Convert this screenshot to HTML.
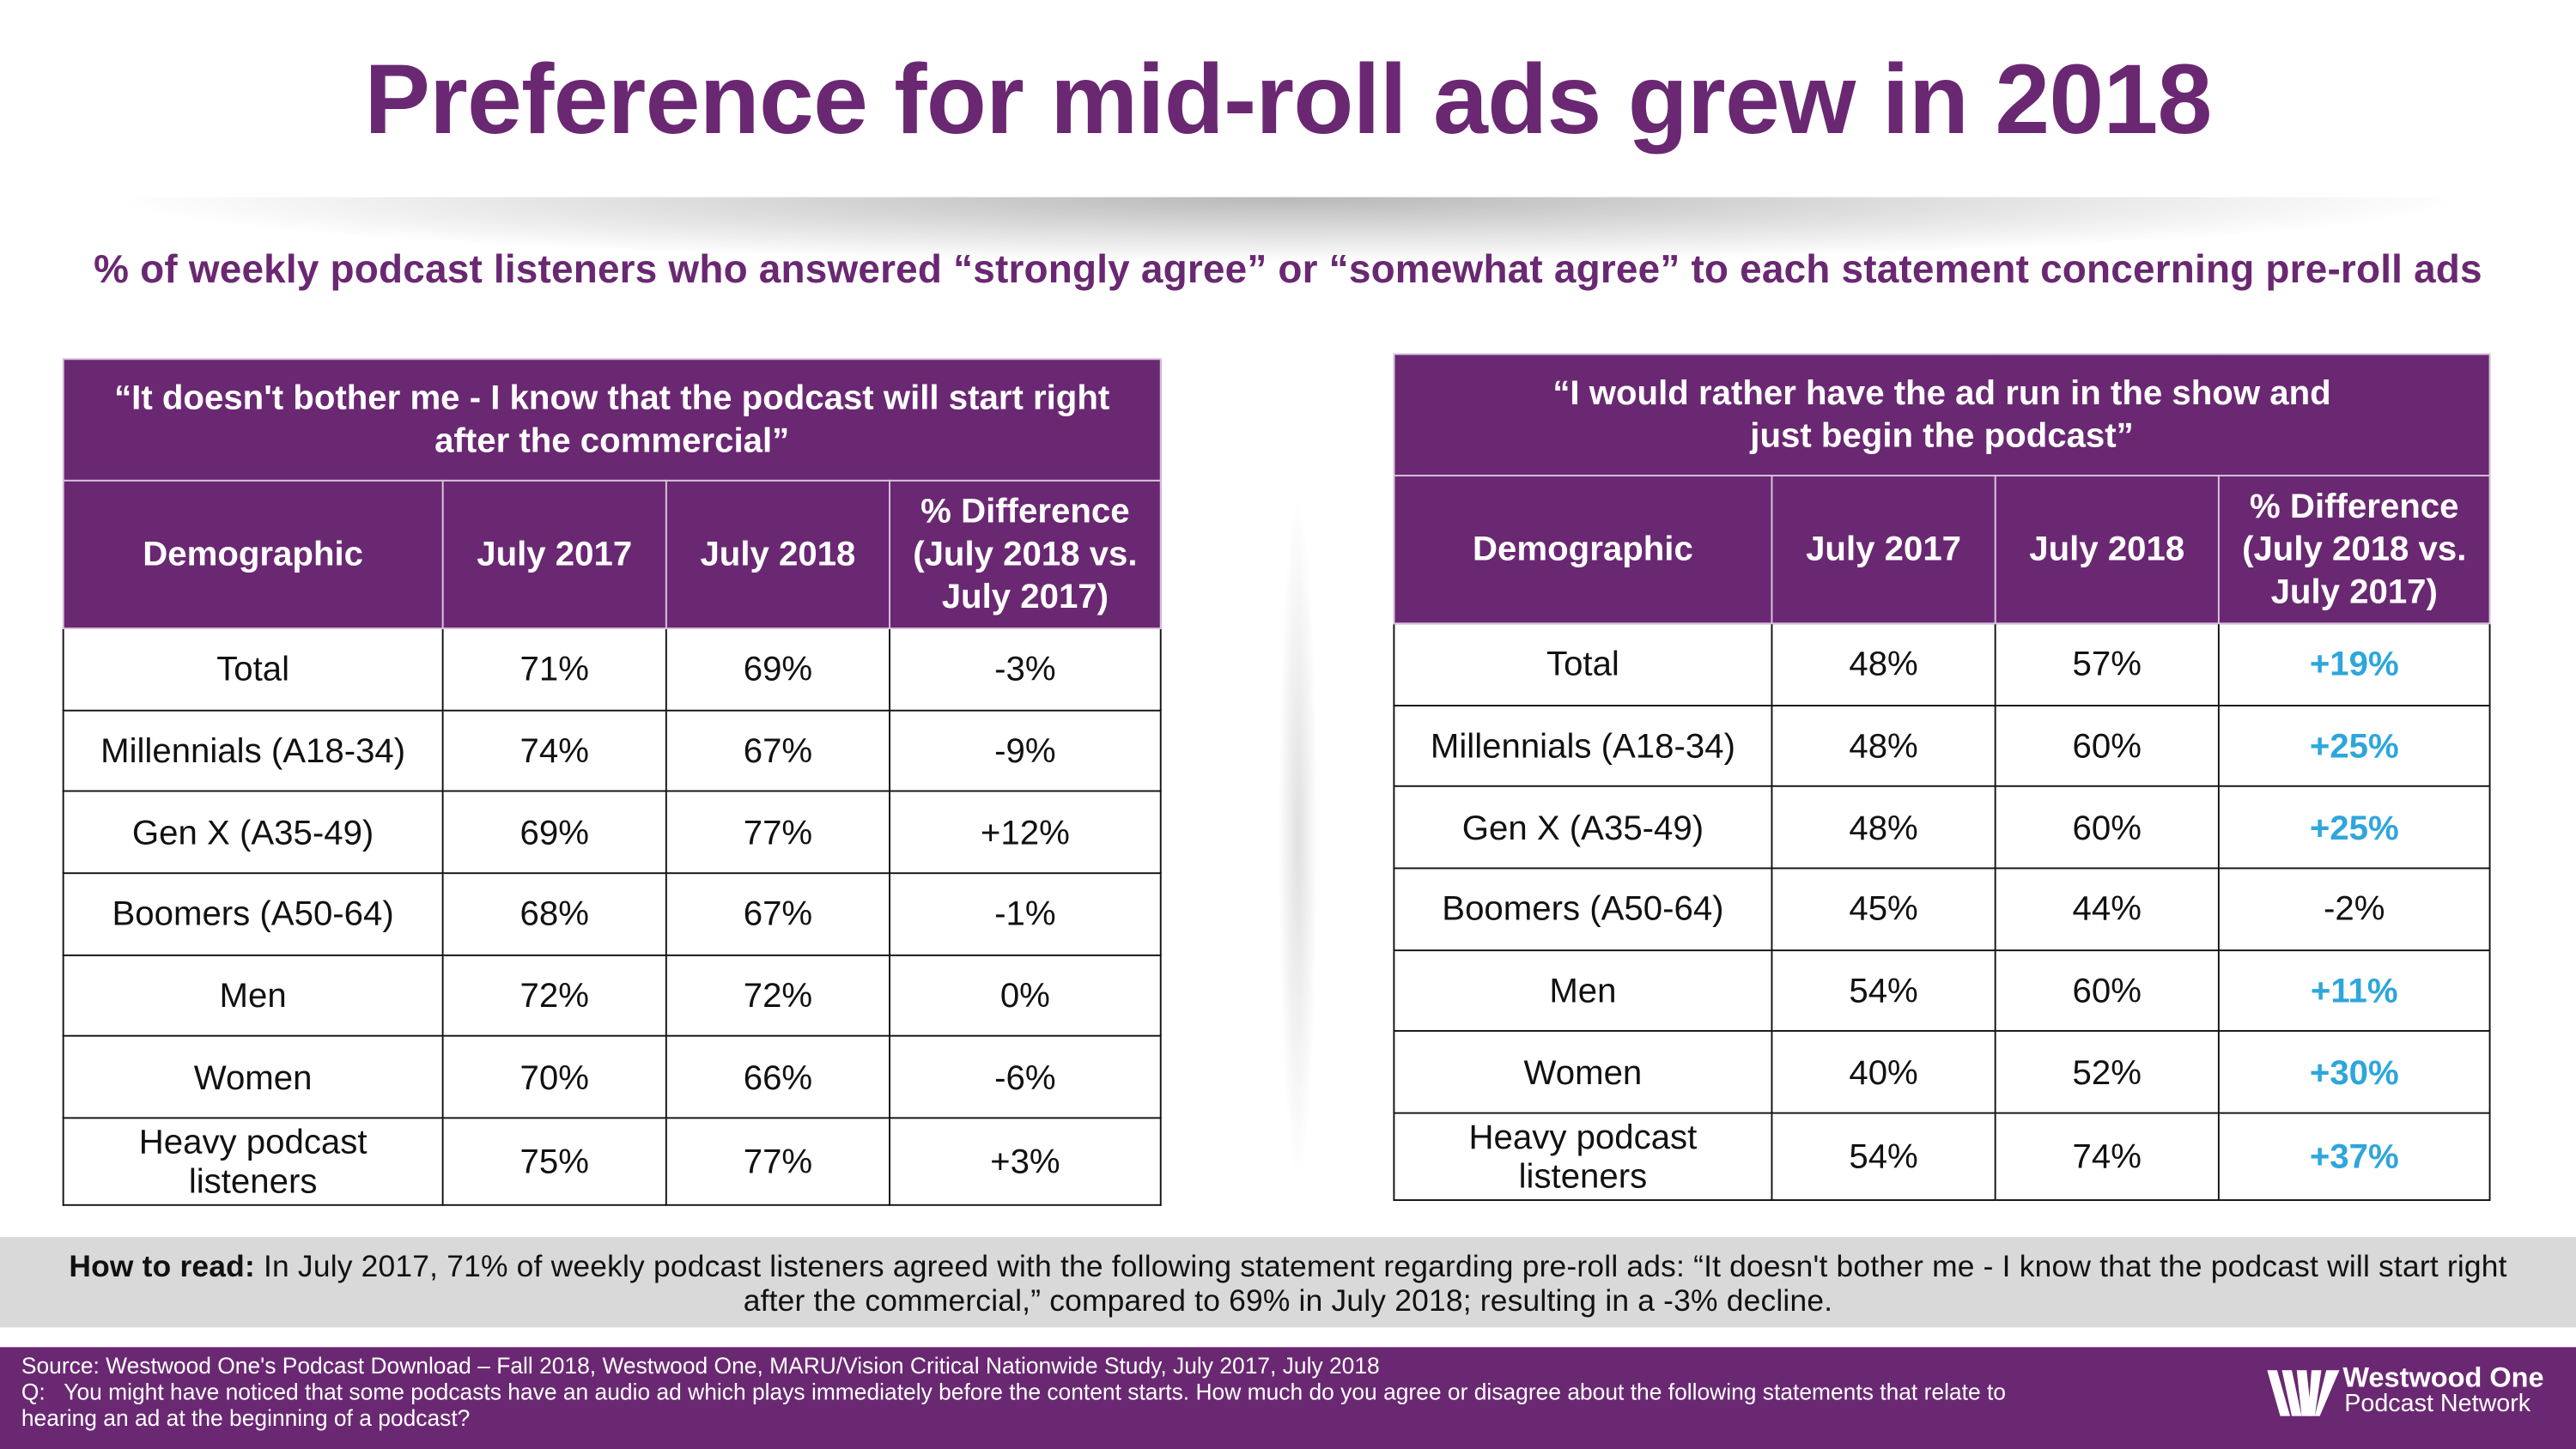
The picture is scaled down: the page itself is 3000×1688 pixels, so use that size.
<!DOCTYPE html>
<html><head><meta charset="utf-8">
<style>
html,body{margin:0;padding:0;background:#fff;}
body{width:3000px;height:1688px;overflow:hidden;position:relative;font-family:"Liberation Sans",sans-serif;}
#s{position:absolute;left:0;top:0;width:1568px;height:882px;transform:scale(1.91327,1.91383);transform-origin:0 0;}
.abs{position:absolute;}
#title{left:0;width:1568px;top:26px;text-align:center;font-size:60px;font-weight:bold;color:#6a2872;letter-spacing:-0.4px;}
#shadow{left:60px;width:1450px;top:120px;height:40px;background:radial-gradient(ellipse at 50% 0%,rgba(0,0,0,0.28),rgba(0,0,0,0) 70%);}
#sub{left:0;width:1568px;top:151px;text-align:center;font-size:24px;font-weight:bold;color:#6a2872;letter-spacing:0.1px;}
table{position:absolute;border-collapse:collapse;table-layout:fixed;}
td{padding:0;text-align:center;vertical-align:middle;font-size:21px;color:#111;border:1.5px solid #111;}
th{padding:0;background:#6a2872;color:#fff;font-size:21px;font-weight:bold;border:1px solid #d8c4dc;line-height:26px;}
th.q{height:73px;}
th.h{height:89px;}
td{height:46.7px;line-height:24px;padding-top:2px;}
.b{color:#2ea6dc;font-weight:bold;}
#vsh{left:778px;top:300px;width:24px;height:420px;background:radial-gradient(ellipse at 50% 50%,rgba(0,0,0,0.12),rgba(0,0,0,0) 70%);}
#how{left:0;top:753px;width:1568px;height:55px;background:#d9d9d9;}
#howt{left:10px;top:760px;width:1548px;text-align:center;font-size:18.5px;line-height:21px;color:#111;letter-spacing:0.1px;}
#foot{left:0;top:820px;width:1568px;height:62px;background:#6a2872;}
#ft{left:13px;top:824px;width:1300px;font-size:13.8px;line-height:16px;color:#fff;}
#logo{left:1380px;top:830px;width:180px;height:36px;color:#fff;}
</style></head><body>
<div id="s">
<div class="abs" id="title">Preference for mid-roll ads grew in 2018</div>
<div class="abs" id="shadow"></div>
<div class="abs" id="sub">% of weekly podcast listeners who answered “strongly agree” or “somewhat agree” to each statement concerning pre-roll ads</div>

<table style="left:38px;top:218px;width:668px;">
<colgroup><col style="width:231px"><col style="width:136px"><col style="width:136px"><col style="width:165px"></colgroup>
<tr><th class="q" colspan="4">“It doesn't bother me - I know that the podcast will start right<br>after the commercial”</th></tr>
<tr><th class="h">Demographic</th><th class="h">July 2017</th><th class="h">July 2018</th><th class="h">% Difference<br>(July 2018 vs.<br>July 2017)</th></tr>
<tr><td>Total</td><td>71%</td><td>69%</td><td>-3%</td></tr>
<tr><td>Millennials (A18-34)</td><td>74%</td><td>67%</td><td>-9%</td></tr>
<tr><td>Gen X (A35-49)</td><td>69%</td><td>77%</td><td>+12%</td></tr>
<tr><td>Boomers (A50-64)</td><td>68%</td><td>67%</td><td>-1%</td></tr>
<tr><td>Men</td><td>72%</td><td>72%</td><td>0%</td></tr>
<tr><td>Women</td><td>70%</td><td>66%</td><td>-6%</td></tr>
<tr><td style="height:50px">Heavy podcast<br>listeners</td><td>75%</td><td>77%</td><td>+3%</td></tr>
</table>

<div class="abs" id="vsh"></div>

<table style="left:848px;top:215px;width:667px;">
<colgroup><col style="width:230px"><col style="width:136px"><col style="width:136px"><col style="width:165px"></colgroup>
<tr><th class="q" colspan="4">“I would rather have the ad run in the show and<br>just begin the podcast”</th></tr>
<tr><th class="h">Demographic</th><th class="h">July 2017</th><th class="h">July 2018</th><th class="h">% Difference<br>(July 2018 vs.<br>July 2017)</th></tr>
<tr><td>Total</td><td>48%</td><td>57%</td><td class="b">+19%</td></tr>
<tr><td>Millennials (A18-34)</td><td>48%</td><td>60%</td><td class="b">+25%</td></tr>
<tr><td>Gen X (A35-49)</td><td>48%</td><td>60%</td><td class="b">+25%</td></tr>
<tr><td>Boomers (A50-64)</td><td>45%</td><td>44%</td><td>-2%</td></tr>
<tr><td>Men</td><td>54%</td><td>60%</td><td class="b">+11%</td></tr>
<tr><td>Women</td><td>40%</td><td>52%</td><td class="b">+30%</td></tr>
<tr><td style="height:50px">Heavy podcast<br>listeners</td><td>54%</td><td>74%</td><td class="b">+37%</td></tr>
</table>

<div class="abs" id="how"></div>
<div class="abs" id="howt"><b>How to read:</b> In July 2017, 71% of weekly podcast listeners agreed with the following statement regarding pre-roll ads: “It doesn't bother me - I know that the podcast will start right<br>after the commercial,” compared to 69% in July 2018; resulting in a -3% decline.</div>

<div class="abs" id="foot"></div>
<div class="abs" id="ft">Source: Westwood One's Podcast Download – Fall 2018, Westwood One, MARU/Vision Critical Nationwide Study, July 2017, July 2018<br>Q:&nbsp;&nbsp; You might have noticed that some podcasts have an audio ad which plays immediately before the content starts. How much do you agree or disagree about the following statements that relate to<br>hearing an ad at the beginning of a podcast?</div>
<div class="abs" id="logo">
<svg width="44" height="28" style="position:absolute;left:0;top:4px" viewBox="0 0 44 28"><g fill="#fff"><polygon points="0,0 6,0 14,28 8,28"/><polygon points="9,0 15,0 21,28 15,28"/><polygon points="18,0 24,0 27,28 21,28"/><polygon points="27,0 33,0 29,28 25,28"/><polygon points="36,0 44,0 32,28 29,28"/></g></svg>
<div style="position:absolute;left:46px;top:0;font-size:17px;font-weight:bold;line-height:18px;white-space:nowrap">Westwood One</div>
<div style="position:absolute;left:47px;top:17px;font-size:15px;line-height:16px;white-space:nowrap">Podcast Network</div>
</div>
</div>
</body></html>
